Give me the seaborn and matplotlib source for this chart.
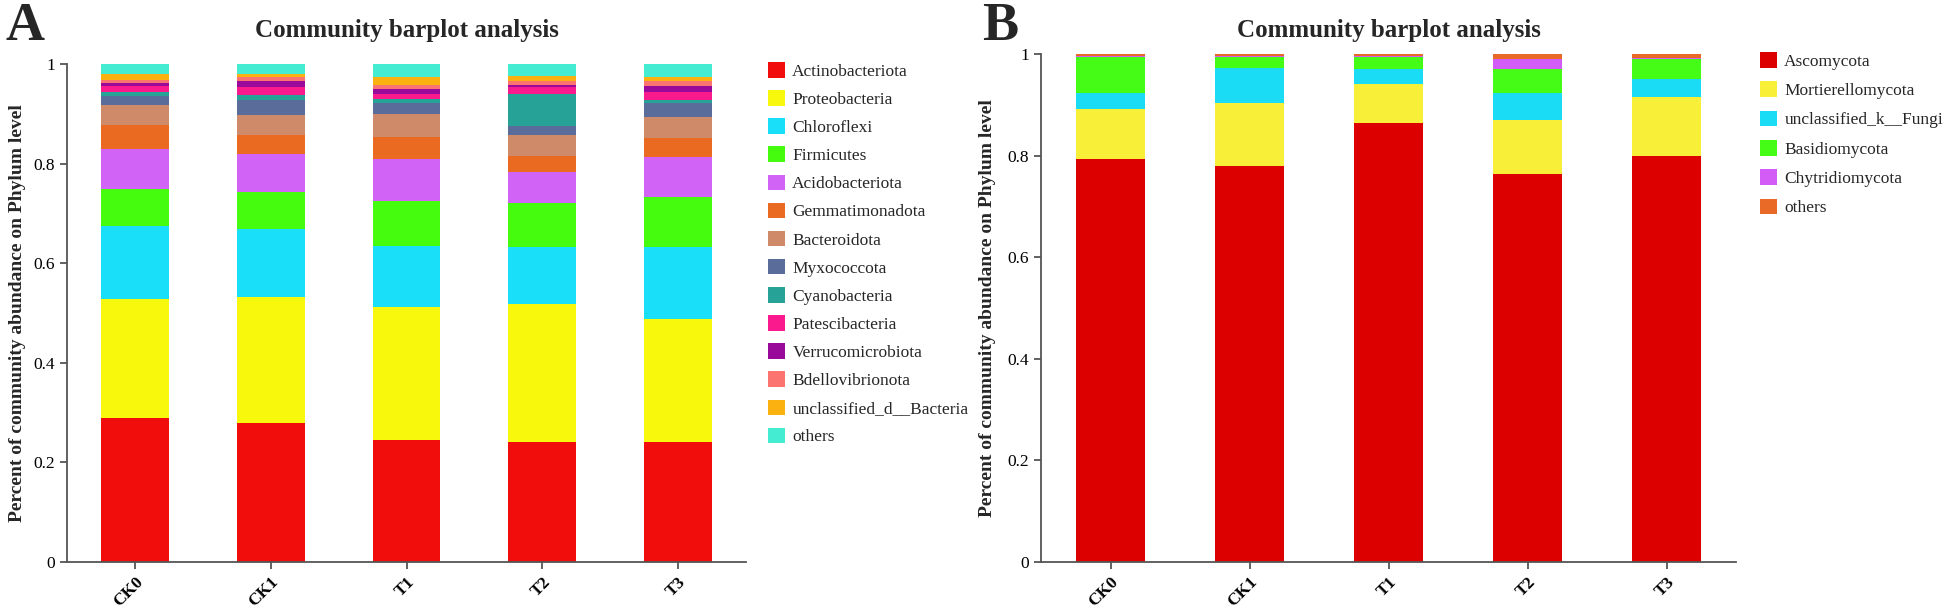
import numpy as np
import pandas as pd
import seaborn as sns
import matplotlib.pyplot as plt
from matplotlib.patches import Patch

# ---- data ----
samples = ["CK0", "CK1", "T1", "T2", "T3"]

bac_names = [
    "Actinobacteriota", "Proteobacteria", "Chloroflexi", "Firmicutes",
    "Acidobacteriota", "Gemmatimonadota", "Bacteroidota", "Myxococcota",
    "Cyanobacteria", "Patescibacteria", "Verrucomicrobiota", "Bdellovibrionota",
    "unclassified_d__Bacteria", "others",
]
actinobacteriota = [0.290, 0.280, 0.245, 0.240, 0.240]
proteobacteria = [0.238, 0.253, 0.268, 0.279, 0.248]
chloroflexi = [0.146, 0.136, 0.121, 0.113, 0.144]
firmicutes = [0.076, 0.074, 0.090, 0.089, 0.100]
acidobacteriota = [0.080, 0.077, 0.086, 0.063, 0.081]
gemmatimonadota = [0.047, 0.038, 0.044, 0.032, 0.039]
bacteroidota = [0.040, 0.040, 0.046, 0.042, 0.042]
myxococcota = [0.019, 0.030, 0.021, 0.017, 0.027]
cyanobacteria = [0.008, 0.009, 0.008, 0.065, 0.007]
patescibacteria = [0.012, 0.017, 0.011, 0.013, 0.015]
verrucomicrobiota = [0.005, 0.011, 0.010, 0.005, 0.013]
bdellovibrionota = [0.007, 0.008, 0.008, 0.007, 0.010]
unclassified_bac = [0.011, 0.007, 0.015, 0.011, 0.008]
others_bac = [0.021, 0.020, 0.027, 0.024, 0.026]

fun_names = [
    "Ascomycota", "Mortierellomycota", "unclassified_k__Fungi",
    "Basidiomycota", "Chytridiomycota", "others",
]
ascomycota = [0.793, 0.779, 0.864, 0.763, 0.799]
mortierellomycota = [0.098, 0.124, 0.076, 0.108, 0.117]
unclassified_fungi = [0.032, 0.069, 0.030, 0.052, 0.035]
basidiomycota = [0.072, 0.023, 0.025, 0.047, 0.039]
chytridiomycota = [0.002, 0.002, 0.002, 0.020, 0.002]
others_fun = [0.003, 0.003, 0.003, 0.010, 0.008]

bac_colors = [
    "#F20D0D", "#F8F80C", "#1ADFF8", "#45FC0F", "#D263F7", "#EB6A21", "#CF8A6A",
    "#5A6D9A", "#26A396", "#FB1A8E", "#9A0A9A", "#FC7470", "#FBB10F", "#44EDD2",
]
fun_colors = ["#DC0000", "#F8F038", "#1ADDF5", "#45FC16", "#D25CF5", "#E86A26"]

df_bac = pd.DataFrame(
    dict(zip(bac_names, [actinobacteriota, proteobacteria, chloroflexi, firmicutes,
                         acidobacteriota, gemmatimonadota, bacteroidota, myxococcota,
                         cyanobacteria, patescibacteria, verrucomicrobiota,
                         bdellovibrionota, unclassified_bac, others_bac])),
    index=samples,
)
df_fun = pd.DataFrame(
    dict(zip(fun_names, [ascomycota, mortierellomycota, unclassified_fungi,
                         basidiomycota, chytridiomycota, others_fun])),
    index=samples,
)

sns.set_style("ticks")
plt.rcParams["font.family"] = ["Liberation Serif", "DejaVu Serif"]
axis_color = "#555555"


def stacked_bars(ax, df, colors):
    # draw cumulative heights from the top down, so each segment covers the one below
    cum = df.cumsum(axis=1)
    for name, col in reversed(list(zip(df.columns, colors))):
        sns.barplot(x=list(df.index), y=cum[name].values, color=col, width=0.5,
                    saturation=1, linewidth=0, ax=ax)
    ax.set_xlim(-0.5, 4.5)
    ax.set_ylim(0, 1)
    ax.set_yticks([0, 0.2, 0.4, 0.6, 0.8, 1])
    ax.set_yticklabels(["0", "0.2", "0.4", "0.6", "0.8", "1"], fontsize=12.5)
    for lab in ax.get_xticklabels():
        lab.set_rotation(45)
        lab.set_ha("right")
        lab.set_rotation_mode("anchor")
        lab.set_fontweight("bold")
        lab.set_fontsize(12.5)
    sns.despine(ax=ax)
    for s in ["left", "bottom"]:
        ax.spines[s].set_color(axis_color)
        ax.spines[s].set_linewidth(1.3)
    ax.tick_params(colors=axis_color, labelcolor="black", length=5, width=1.3)
    ax.set_ylabel("Percent of community abundance on Phylum level",
                  fontsize=14, fontweight="bold")
    ax.set_xlabel("")


W, H = 1944, 606
fig = plt.figure(figsize=(W / 100, H / 100), dpi=100)
axA = fig.add_axes([67 / W, 44 / H, 679 / W, 498 / H])
axB = fig.add_axes([1041 / W, 44 / H, 695 / W, 508 / H])

stacked_bars(axA, df_bac, bac_colors)
stacked_bars(axB, df_fun, fun_colors)
axA.yaxis.set_label_coords(-41 / 679, 0.5)
axB.yaxis.set_label_coords(-45 / 695, 0.5)

# titles and panel letters
fig.text((67 + 679 / 2) / W, 1 - 30 / H, "Community barplot analysis",
         ha="center", va="center", fontsize=18, fontweight="bold")
fig.text((1041 + 695 / 2) / W, 1 - 30 / H, "Community barplot analysis",
         ha="center", va="center", fontsize=18, fontweight="bold")
fig.text(6 / W, 1 - 40 / H, "A", ha="left", va="baseline", fontsize=39, fontweight="bold")
fig.text(982 / W, 1 - 40 / H, "B", ha="left", va="baseline", fontsize=39, fontweight="bold")

# legends
hA = [Patch(facecolor=c, edgecolor="none") for c in bac_colors]
axA.legend(hA, bac_names, loc="upper left", bbox_to_anchor=(768 / W, 1 - 62 / H),
           bbox_transform=fig.transFigure, frameon=False, fontsize=12.5,
           handlelength=1.0, handleheight=1.0, labelspacing=0.6,
           handletextpad=0.4, borderaxespad=0, borderpad=0)
hB = [Patch(facecolor=c, edgecolor="none") for c in fun_colors]
axB.legend(hB, fun_names, loc="upper left", bbox_to_anchor=(1760 / W, 1 - 52 / H),
           bbox_transform=fig.transFigure, frameon=False, fontsize=12.5,
           handlelength=1.0, handleheight=1.0, labelspacing=0.67,
           handletextpad=0.4, borderaxespad=0, borderpad=0)

fig.savefig("out.png", dpi=100)
